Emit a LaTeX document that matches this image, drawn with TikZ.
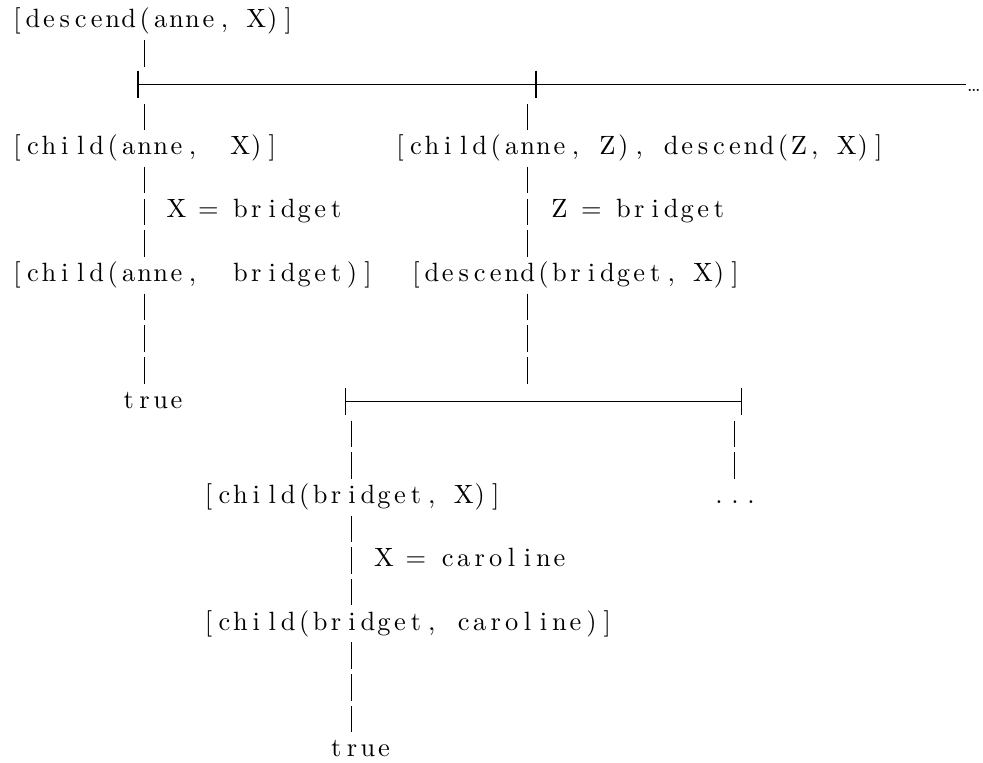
\documentclass[tikz,border=0pt]{standalone}
\usepackage{tikz}

% every character sits in a fixed-width cell, like a listing
\newlength\cellw
\setlength\cellw{6.04pt}
\makeatletter
\def\grid@stop{\grid@stop}
\newcommand\gridtext[1]{\grid@next#1\grid@stop}
\def\grid@next#1{%
  \ifx#1\grid@stop\else
    \makebox[\cellw][c]{#1}\expandafter\grid@next
  \fi}
\makeatother

\begin{document}
\begin{tikzpicture}[
  x=6.04pt, y=-12pt,
  goal/.style = {inner sep=0pt, anchor=base west,
                 text height=7.5pt, text depth=2.5pt},
  junc/.style = {inner sep=0pt, minimum size=0pt, anchor=base,
                 text height=7.5pt, text depth=2.5pt},
  bar/.style  = {line width=0.4pt, dash pattern=on 10pt off 2pt, dash phase=10pt},
  rail/.style = {line width=0.4pt},
  tick/.style = {line width=0.5pt}
]
\useasboundingbox (-1.034,-0.873) rectangle (60.57,23.19);

% goals, one column = one character
\node[goal] (q0) at (-0.5,0)  {\gridtext{[descend(anne,~X)]}};
\node[junc] (j0) at (8,2)  {};
\node[junc] (j1) at (32,2) {};
\node[anchor=base, inner sep=0pt, font=\fontsize{7}{8}\selectfont]
  (d0) at (60,2) {\textellipsis};

\node[goal] (q1) at (-0.5,4)  {\gridtext{[child(anne,~~X)]}};
\node[goal] (q2) at (23.5,4)  {\gridtext{[child(anne,~Z),~descend(Z,~X)]}};
\node[goal] (s1) at (9.5,6)   {\gridtext{X~=~bridget}};
\node[goal] (s2) at (33.5,6)  {\gridtext{Z~=~bridget}};
\node[goal] (q3) at (-0.5,8)  {\gridtext{[child(anne,~~bridget)]}};
\node[goal] (q4) at (24.5,8)  {\gridtext{[descend(bridget,~X)]}};
\node[goal] (t1) at (6.5,12)  {\gridtext{true}};
\node[junc] (j2) at (21,12) {};
\node[junc] (j3) at (45,12) {};

\node[goal] (q5) at (11.5,15) {\gridtext{[child(bridget,~X)]}};
\node[goal] (d1) at (43.5,15) {\gridtext{...}};
\node[goal] (s3) at (22.5,17) {\gridtext{X~=~caroline}};
\node[goal] (q6) at (11.5,19) {\gridtext{[child(bridget,~caroline)]}};
\node[goal] (t2) at (19.5,23) {\gridtext{true}};

% branching rails
\draw[rail] ([xshift=-2.3pt]j0.center) -- (d0.west |- j0.center);
\draw[rail] ([xshift=-2.3pt]j2.center) -- ([xshift=2.5pt]j3.center);
\draw[tick] ([xshift=-2.3pt]j0.north) -- ([xshift=-2.3pt]j0.south);
\draw[tick] ([xshift=3.4pt]j1.north)  -- ([xshift=3.4pt]j1.south);
\draw[tick] ([xshift=-2.3pt]j2.north) -- ([xshift=-2.3pt]j2.south);
\draw[tick] ([xshift=2.5pt]j3.north)  -- ([xshift=2.5pt]j3.south);

% derivation steps
\draw[bar] (q0.south -| j0) -- (j0.north);
\draw[bar] (j0.south) -- (q1.north -| j0);
\draw[bar] (q1.south -| j0) -- (q3.north -| j0);
\draw[bar] (q3.south -| j0) -- (t1.north -| j0);
\draw[bar] (j1.south) -- (q2.north -| j1);
\draw[bar] (q2.south -| j1) -- (q4.north -| j1);
\draw[bar] (q4.south -| j1) -- (j2.north -| j1);
\draw[bar] (j2.south) -- (q5.north -| j2);
\draw[bar] (q5.south -| j2) -- (q6.north -| j2);
\draw[bar] (q6.south -| j2) -- (t2.north -| j2);
\draw[bar] (j3.south) -- (d1.north -| j3);

\end{tikzpicture}
\end{document}
